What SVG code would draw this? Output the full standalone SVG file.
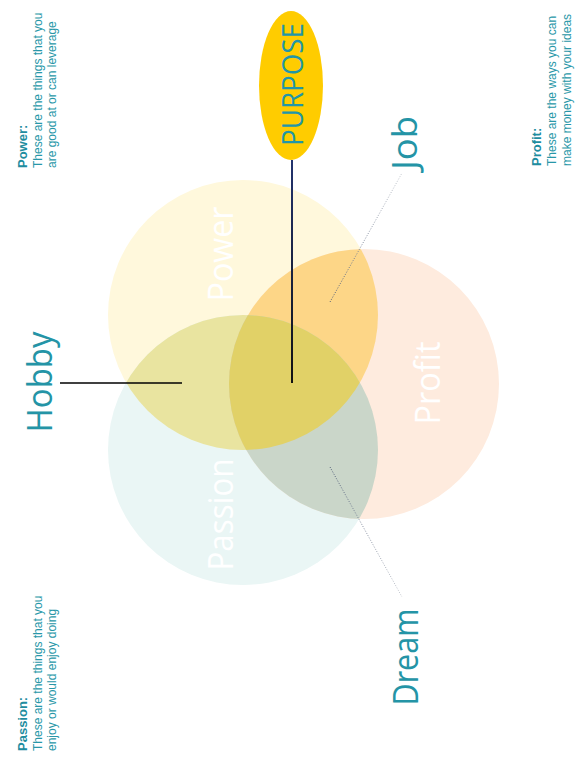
<svg xmlns="http://www.w3.org/2000/svg" width="588" height="768" viewBox="0 0 588 768">
<style>
.big{font-family:"Open Sans","Noto Sans",sans-serif;text-anchor:middle;}
.lbl{fill:#2494a6;font-size:35px;}
.inner{fill:#ffffff;font-size:35px;}
.note{font-family:"Liberation Sans",Arial,sans-serif;font-size:12px;fill:#2897a8;}
.ttl{font-weight:bold;font-size:13px;fill:#1f8d9f;}
.dot{fill:none;stroke-width:1;stroke-dasharray:1 1.6;}
</style>
<defs>
<clipPath id="cPow"><circle cx="243" cy="315" r="135"/></clipPath>
<clipPath id="cPas"><circle cx="243" cy="450" r="135"/></clipPath>
<linearGradient id="gPur" x1="0" y1="160" x2="0" y2="383" gradientUnits="userSpaceOnUse">
<stop offset="0" stop-color="#22336e"/><stop offset="1" stop-color="#111111"/>
</linearGradient>
<linearGradient id="gJob" x1="330" y1="302" x2="402" y2="173" gradientUnits="userSpaceOnUse">
<stop offset="0" stop-color="#4d5a74"/><stop offset="1" stop-color="#c4c8cf"/>
</linearGradient>
<linearGradient id="gDream" x1="330" y1="467" x2="402" y2="597" gradientUnits="userSpaceOnUse">
<stop offset="0" stop-color="#4d5a74"/><stop offset="1" stop-color="#c4c8cf"/>
</linearGradient>
</defs>
<rect width="588" height="768" fill="#ffffff"/>

<g id="venn">
<circle id="power" cx="243" cy="315" r="135" fill="#fff8dc"/>
<circle id="passion" cx="243" cy="450" r="135" fill="#eaf6f5"/>
<circle id="profit" cx="364" cy="384" r="135" fill="#feebde"/>
<g clip-path="url(#cPow)"><circle cx="243" cy="450" r="135" fill="#e9e4a0"/></g>
<g clip-path="url(#cPow)"><circle cx="364" cy="384" r="135" fill="#fdd687"/></g>
<g clip-path="url(#cPas)"><circle cx="364" cy="384" r="135" fill="#cad6c9"/></g>
<g clip-path="url(#cPow)"><g clip-path="url(#cPas)"><circle cx="364" cy="384" r="135" fill="#e1d167"/></g></g>
</g>

<g id="circle-labels">
<text class="big inner" transform="translate(233,254) rotate(-90)" textLength="95" lengthAdjust="spacingAndGlyphs">Power</text>
<text class="big inner" transform="translate(233,514.5) rotate(-90)" textLength="112" lengthAdjust="spacingAndGlyphs">Passion</text>
<text class="big inner" transform="translate(440,383) rotate(-90)" textLength="83" lengthAdjust="spacingAndGlyphs">Profit</text>
</g>

<g id="connectors">
<line x1="292" y1="160" x2="292" y2="383" stroke="url(#gPur)" stroke-width="2"/>
<line x1="60" y1="383" x2="182" y2="383" stroke="#000000" stroke-width="1.3"/>
<line class="dot" x1="330" y1="302" x2="402" y2="173" stroke="url(#gJob)"/>
<line class="dot" x1="330" y1="467" x2="402" y2="597" stroke="url(#gDream)"/>
</g>

<g id="purpose">
<ellipse cx="291" cy="85.5" rx="32" ry="74.5" fill="#ffcc00"/>
<text class="big" fill="#2196a8" font-size="29" transform="translate(303,84.5) rotate(-90)" textLength="123" lengthAdjust="spacingAndGlyphs">PURPOSE</text>
</g>

<g id="job"><text class="big lbl" transform="translate(417,143) rotate(-90)" textLength="54" lengthAdjust="spacingAndGlyphs">Job</text></g>
<g id="dream"><text class="big lbl" transform="translate(418,657) rotate(-90)" textLength="97" lengthAdjust="spacingAndGlyphs">Dream</text></g>
<g id="hobby"><text class="big lbl" transform="translate(52,382) rotate(-90)" textLength="101" lengthAdjust="spacingAndGlyphs">Hobby</text></g>

<g id="note-power" transform="translate(0,168) rotate(-90)">
<text class="note ttl" x="0" y="27">Power:</text>
<text class="note" x="0" y="41.5">These are the things that you</text>
<text class="note" x="0" y="55.5">are good at or can leverage</text>
</g>
<g id="note-profit" transform="translate(0,166) rotate(-90)">
<text class="note ttl" x="0" y="541">Profit:</text>
<text class="note" x="0" y="556">These are the ways you can</text>
<text class="note" x="0" y="570.5">make money with your ideas</text>
</g>
<g id="note-passion" transform="translate(0,751) rotate(-90)">
<text class="note ttl" x="0" y="27">Passion:</text>
<text class="note" x="0" y="41.5">These are the things that you</text>
<text class="note" x="0" y="55.5">enjoy or would enjoy doing</text>
</g>
</svg>
